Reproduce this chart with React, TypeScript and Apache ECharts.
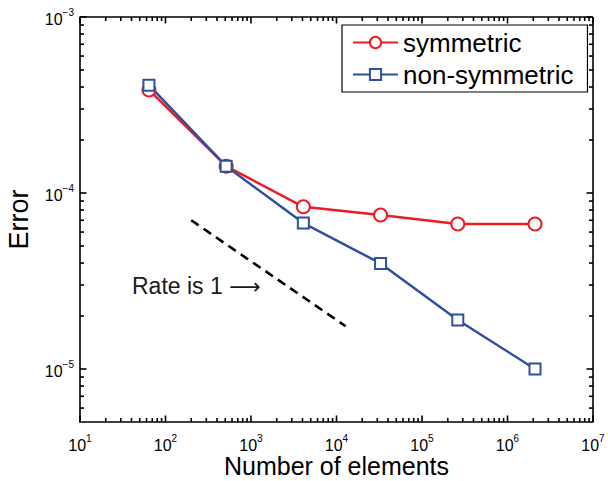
import React, { useEffect, useRef } from "react";
import * as echarts from "echarts";

// ---- data ----
const elements = [64, 512, 4096, 32768, 262144, 2097152];
const symmetricError = [3.85e-4, 1.42e-4, 8.35e-5, 7.5e-5, 6.67e-5, 6.67e-5];
const nonSymmetricError = [4.1e-4, 1.42e-4, 6.75e-5, 3.98e-5, 1.9e-5, 1.0e-5];
const rateLineX = [200, 12800];
const rateLineY = [7.0e-5, 1.75e-5];
const seriesNames = ["symmetric", "non-symmetric"];
const rateText = "Rate is 1";
const rateArrow = "\u27F6";
const xAxisTitle = "Number of elements";
const yAxisTitle = "Error";

const X_MIN = 10;
const X_MAX = 1e7;
const Y_MIN = 5e-6;
const Y_MAX = 1e-3;

// tick positions (major decades, minor 2..9 within each decade)
const minorMultipliers = [2, 3, 4, 5, 6, 7, 8, 9];
const xDecades = [1e1, 1e2, 1e3, 1e4, 1e5, 1e6];
const yDecades = [1e-6, 1e-5, 1e-4];
const xMajor = [1e1, 1e2, 1e3, 1e4, 1e5, 1e6, 1e7];
const yMajor = [1e-5, 1e-4, 1e-3];

const FONT = "Liberation Sans, Arial, Helvetica, sans-serif";
const RED = "#ec1c24";
const BLUE = "#304f9f";
const TICK_W = 1.6;
const MAJOR_LEN = 6.5;
const MINOR_LEN = 4;

function buildMinor(decades: number[], lo: number, hi: number): number[] {
  const out: number[] = [];
  for (const d of decades) {
    for (const m of minorMultipliers) {
      const v = m * d;
      if (v > lo * 1.0001 && v < hi * 0.9999) out.push(v);
    }
  }
  return out;
}

const supLabel = (v: number) => {
  const e = Math.round(Math.log10(v));
  const es = e < 0 ? "\u2212" + -e : String(e);
  return `{b|10}{s|${es}}`;
};

const makeRich = () => ({
  b: { fontSize: 16, lineHeight: 20, verticalAlign: "bottom", color: "#000", fontFamily: FONT },
  s: { fontSize: 10, lineHeight: 10, verticalAlign: "top", color: "#000", fontFamily: FONT },
});

export default function App() {
  const ref = useRef<HTMLDivElement>(null);

  useEffect(() => {
    if (!ref.current) return;
    const chart = echarts.init(ref.current, undefined, { renderer: "svg" });

    const xMinor = buildMinor(xDecades, X_MIN, X_MAX);
    const yMinor = buildMinor(yDecades, Y_MIN, Y_MAX);

    const rateLabel = {
      type: "text",
      x: 132,
      y: 286,
      z: 10,
      silent: true,
      style: {
        text: `{t|${rateText} }{a|${rateArrow}}`,
        rich: {
          t: { fontSize: 23, fontFamily: FONT, fill: "#1a1a1a", color: "#1a1a1a" },
          a: { fontSize: 22, fontFamily: "DejaVu Sans", fill: "#1a1a1a", color: "#1a1a1a" },
        },
        verticalAlign: "middle",
      },
    };

    const option: any = {
      animation: false,
      backgroundColor: "#fff",
      grid: {
        left: 80,
        right: 15,
        top: 17,
        bottom: 59,
        containLabel: false,
        outerBoundsMode: "none",
        show: false,
      },
      legend: {
        data: seriesNames,
        orient: "vertical",
        left: 342,
        top: 25,
        backgroundColor: "#fff",
        borderColor: "#000",
        borderWidth: 1.2,
        borderRadius: 0,
        padding: [4, 14, 4, 10],
        itemWidth: 45,
        itemHeight: 14,
        itemGap: 5,
        textStyle: { fontSize: 26, fontFamily: FONT, color: "#000", lineHeight: 27 },
      },
      xAxis: {
        type: "log",
        min: X_MIN,
        max: X_MAX,
        position: "bottom",
        name: xAxisTitle,
        nameLocation: "middle",
        nameGap: 36,
        nameMoveOverlap: false,
        nameTextStyle: { fontSize: 25, lineHeight: 16, fontFamily: FONT, color: "#000" },
        axisLine: { show: true, onZero: false, lineStyle: { color: "#000", width: 1.6 } },
        axisTick: { show: false },
        splitLine: { show: false },
        axisLabel: {
          formatter: supLabel,
          rich: makeRich(),
          margin: 11,
          showMinLabel: true,
          showMaxLabel: true,
          hideOverlap: false,
        },
      },
      yAxis: {
        type: "log",
        min: Y_MIN,
        max: Y_MAX,
        position: "left",
        name: yAxisTitle,
        nameLocation: "middle",
        nameGap: 48,
        nameMoveOverlap: false,
        nameTextStyle: { fontSize: 27, fontFamily: FONT, color: "#000" },
        axisLine: { show: true, onZero: false, lineStyle: { color: "#000", width: 1.6 } },
        axisTick: { show: false },
        splitLine: { show: false },
        axisLabel: {
          formatter: supLabel,
          rich: makeRich(),
          margin: 6,
          showMinLabel: false,
          showMaxLabel: true,
          hideOverlap: false,
        },
      },
      graphic: [rateLabel],
      series: [
        {
          type: "line",
          name: "rate",
          data: rateLineX.map((x, i) => [x, rateLineY[i]]),
          symbol: "none",
          silent: true,
          lineStyle: { color: "#000", width: 2.6, type: [9, 6] },
        },
        {
          type: "line",
          name: seriesNames[0],
          data: elements.map((x, i) => [x, symmetricError[i]]),
          symbol: "emptyCircle",
          symbolSize: 13,
          color: RED,
          lineStyle: { color: RED, width: 2.5 },
          itemStyle: { color: RED, borderColor: RED, borderWidth: 2.5 },
        },
        {
          type: "line",
          name: seriesNames[1],
          data: elements.map((x, i) => [x, nonSymmetricError[i]]),
          symbol: "emptyRect",
          symbolSize: 11,
          color: BLUE,
          lineStyle: { color: BLUE, width: 2.5 },
          itemStyle: { color: BLUE, borderColor: BLUE, borderWidth: 2.2 },
        },
      ],
    };

    chart.setOption(option);

    // frame and tick marks on all four sides, positioned through the axes' own scales
    const els: any[] = [];
    const px = (x: number, y: number) => chart.convertToPixel({ gridIndex: 0 } as any, [x, y]) as number[];
    const lineEl = (x1: number, y1: number, x2: number, y2: number, w: number) => ({
      type: "line",
      silent: true,
      z: 20,
      shape: { x1, y1, x2, y2 },
      style: { stroke: "#000", lineWidth: w },
    });
    const bl = px(X_MIN, Y_MIN);
    const tr = px(X_MAX, Y_MAX);
    els.push(lineEl(bl[0], tr[1], tr[0], tr[1], 1.6));
    els.push(lineEl(tr[0], tr[1], tr[0], bl[1], 1.6));
    const addX = (v: number, len: number) => {
      const b = px(v, Y_MIN);
      const t = px(v, Y_MAX);
      els.push(lineEl(b[0], b[1], b[0], b[1] - len, TICK_W));
      els.push(lineEl(t[0], t[1], t[0], t[1] + len, TICK_W));
    };
    const addY = (v: number, len: number) => {
      const l = px(X_MIN, v);
      const r = px(X_MAX, v);
      els.push(lineEl(l[0], l[1], l[0] + len, l[1], TICK_W));
      els.push(lineEl(r[0], r[1], r[0] - len, r[1], TICK_W));
    };
    xMajor.forEach((v) => addX(v, MAJOR_LEN));
    xMinor.forEach((v) => addX(v, MINOR_LEN));
    yMajor.forEach((v) => addY(v, MAJOR_LEN));
    yMinor.forEach((v) => addY(v, MINOR_LEN));

    chart.setOption({ graphic: [rateLabel, ...els] }, { replaceMerge: ["graphic"] } as any);

    return () => chart.dispose();
  }, []);

  return (
    <div
      ref={ref}
      style={{ position: "fixed", left: 0, top: 0, width: 608, height: 481, background: "#fff" }}
    />
  );
}
